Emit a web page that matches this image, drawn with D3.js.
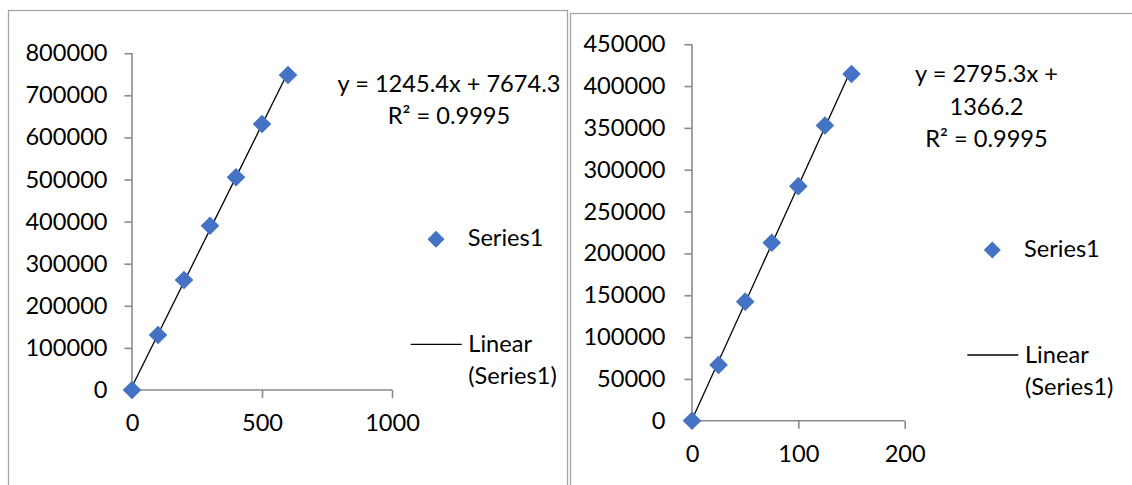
<!DOCTYPE html>
<html><head><meta charset="utf-8">
<script src="https://cdn.jsdelivr.net/npm/d3@7"></script>
<style>
html,body{margin:0;padding:0;background:#fff;}
svg{display:block;}
text{font-family:Lato, "Open Sans", sans-serif; fill:#000;}
</style>
</head><body>
<svg id="c" width="1132" height="485"></svg>
<script>
// ---------- data ----------
const seriesName = "Series1";
const trendLabel = ["Linear", "(Series1)"];

// chart 1
const xValues1 = [0, 100, 200, 300, 400, 500, 600];
const yValues1 = [0, 130600, 261300, 390300, 505200, 631800, 748200];
const xTicks1 = [0, 500, 1000];
const yTicks1 = [0, 100000, 200000, 300000, 400000, 500000, 600000, 700000, 800000];
const slope1 = 1245.4;
const intercept1 = 7674.3;
const equation1 = ["y = 1245.4x + 7674.3", "R² = 0.9995"];

// chart 2
const xValues2 = [0, 25, 50, 75, 100, 125, 150];
const yValues2 = [0, 66800, 142400, 212800, 280400, 352900, 414400];
const xTicks2 = [0, 100, 200];
const yTicks2 = [0, 50000, 100000, 150000, 200000, 250000, 300000, 350000, 400000, 450000];
const slope2 = 2795.3;
const intercept2 = 1366.2;
const equation2 = ["y = 2795.3x +", "1366.2", "R² = 0.9995"];

// ---------- drawing ----------
const svg = d3.select("#c");
const FS = 23.6;
const axisColor = "#8a8a8a";
const frameColor = "#a6a6a6";
const markerColor = "#4472C4";

function diamond(sel, cx, cy, r) {
  sel.append("path")
    .attr("d", `M${cx},${cy - r}L${cx + r},${cy}L${cx},${cy + r}L${cx - r},${cy}Z`)
    .attr("fill", markerColor);
}

function drawChart(cfg) {
  const g = svg.append("g");
  // frame
  g.append("rect")
    .attr("x", cfg.frame[0]).attr("y", cfg.frame[1])
    .attr("width", cfg.frame[2]).attr("height", cfg.frame[3])
    .attr("fill", "#fff").attr("stroke", frameColor).attr("stroke-width", 1.3);

  const x = d3.scaleLinear().domain(cfg.xDomain).range(cfg.xRange);
  const y = d3.scaleLinear().domain(cfg.yDomain).range(cfg.yRange);

  // y axis
  const yAxis = g.append("g")
    .attr("transform", `translate(${cfg.xRange[0]},0)`)
    .call(d3.axisLeft(y).tickValues(cfg.yTicks).tickSize(7.5).tickPadding(cfg.yPad).tickFormat(d3.format("d")));
  // x axis
  const xAxis = g.append("g")
    .attr("transform", `translate(0,${cfg.yRange[0]})`)
    .call(d3.axisBottom(x).tickValues(cfg.xTicks).tickSize(8).tickPadding(16).tickFormat(d3.format("d")));
  [yAxis, xAxis].forEach(a => {
    a.select(".domain").attr("stroke", axisColor).attr("stroke-width", 1.6);
    a.selectAll(".tick line").attr("stroke", axisColor).attr("stroke-width", 1.6);
    a.selectAll(".tick text").attr("font-size", FS).attr("font-family", "Lato").attr("fill", "#000");
  });
  yAxis.select(".domain").attr("d", `M0,${cfg.yRange[0]}V${cfg.yRange[1]}`);
  xAxis.select(".domain").attr("d", `M${cfg.xRange[0]},0H${cfg.xRange[1]}`);

  // trendline
  const xs = d3.extent(cfg.xv);
  g.append("line")
    .attr("x1", x(xs[0])).attr("y1", y(cfg.slope * xs[0] + cfg.intercept))
    .attr("x2", x(xs[1])).attr("y2", y(cfg.slope * xs[1] + cfg.intercept))
    .attr("stroke", "#000").attr("stroke-width", 1.3);

  // markers
  cfg.xv.forEach((xv, i) => diamond(g, x(xv), y(cfg.yv[i]), 9.3));

  // equation
  cfg.eq.forEach((t, i) => {
    g.append("text").attr("x", cfg.eqX).attr("y", cfg.eqY[i])
      .attr("text-anchor", "middle").attr("font-size", FS).text(t);
  });

  // legend
  const L = cfg.legend;
  diamond(g, L.dx, L.dy, 8.5);
  g.append("text").attr("x", L.tx).attr("y", L.ty1).attr("font-size", FS).text(seriesName);
  g.append("line").attr("x1", L.lx1).attr("x2", L.lx2).attr("y1", L.ly).attr("y2", L.ly)
    .attr("stroke", "#000").attr("stroke-width", 1.3);
  trendLabel.forEach((t, i) => {
    g.append("text").attr("x", L.tx2).attr("y", L.ty2[i]).attr("font-size", FS).text(t);
  });
}

drawChart({
  frame: [8.5, 10.5, 559, 500],
  xDomain: [0, 1000], xRange: [132, 392],
  yDomain: [0, 800000], yRange: [390, 53.2],
  xTicks: xTicks1, yTicks: yTicks1, yPad: 17,
  xv: xValues1, yv: yValues1, slope: slope1, intercept: intercept1,
  eq: equation1, eqX: 449, eqY: [91.7, 124],
  legend: {dx: 436, dy: 239.3, tx: 467.7, ty1: 246, lx1: 410.7, lx2: 461.7, ly: 344.3,
           tx2: 468.3, ty2: [351.5, 383.5]}
});

drawChart({
  frame: [570.5, 13.5, 600, 500],
  xDomain: [0, 200], xRange: [692, 904.7],
  yDomain: [0, 450000], yRange: [420.8, 44.2],
  xTicks: xTicks2, yTicks: yTicks2, yPad: 19,
  xv: xValues2, yv: yValues2, slope: slope2, intercept: intercept2,
  eq: equation2, eqX: 986.5, eqY: [81.7, 115, 146.7],
  legend: {dx: 992.3, dy: 250, tx: 1024, ty1: 256.5, lx1: 967.3, lx2: 1018.3, ly: 355,
           tx2: 1025, ty2: [363.3, 395]}
});
</script>
</body></html>
